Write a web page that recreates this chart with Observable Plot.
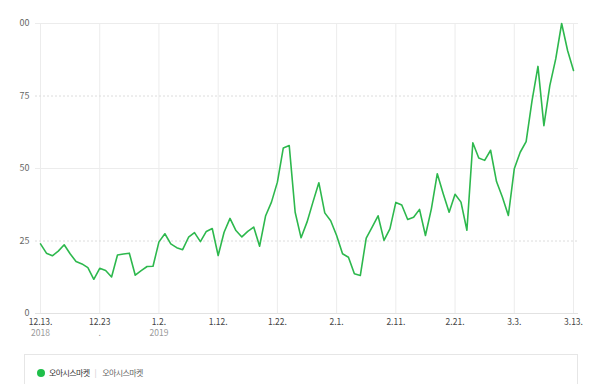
<!DOCTYPE html>
<html>
<head>
<meta charset="utf-8">
<script src="https://cdn.jsdelivr.net/npm/d3@7"></script>
<script src="https://cdn.jsdelivr.net/npm/@observablehq/plot@0.6"></script>
<style>
  html, body { margin: 0; padding: 0; background: #fff; }
  body { width: 600px; height: 384px; overflow: hidden; font-family: "Noto Sans CJK KR", "Noto Sans", sans-serif; }
  #legend { margin-left: 24px; width: 554px; height: 40px; box-sizing: border-box; border: 1px solid #e6e6e6; border-bottom: none; margin-top: 4px; position: relative; }
  #legend .item { position: absolute; top: 13px; left: 12px; display: flex; align-items: center; font-size: 8px; letter-spacing: -0.6px; line-height: 10px; }
  #legend .dot { width: 8px; height: 8px; border-radius: 50%; background: #1fbf4a; margin-right: 4px; }
  #legend .name { color: #333; }
  #legend .sep { color: #ccc; margin: 0 6px 0 5px; }
  #legend .sub { color: #666; }
</style>
</head>
<body>
<div id="chart"></div>
<div id="legend">
  <div class="item"><span class="dot"></span><span class="name" id="lg1"></span><span class="sep">|</span><span class="sub" id="lg2"></span></div>
</div>
<script>
const seriesName = "오아시스마켓";
const startDate = "2018-12-13";
const endDate = "2019-03-13";
const values = [
  24.0, 20.8, 19.9, 21.5, 23.7, 20.6, 17.9, 17.1, 15.8, 11.8,
  15.6, 14.8, 12.6, 20.2, 20.5, 20.8, 13.2, 14.8, 16.2, 16.3,
  24.7, 27.5, 24.0, 22.7, 22.0, 26.3, 27.9, 24.8, 28.3, 29.3,
  20.0, 28.0, 32.8, 28.6, 26.4, 28.3, 29.8, 23.2, 33.6, 38.4,
  45.3, 57.1, 57.9, 34.9, 26.1, 31.5, 38.4, 45.1, 34.7, 32.0,
  26.9, 20.6, 19.4, 13.7, 13.1, 26.0, 29.8, 33.7, 25.2, 29.2,
  38.3, 37.4, 32.4, 33.2, 35.9, 26.9, 36.1, 48.2, 41.3, 34.9,
  41.1, 38.4, 28.7, 58.9, 53.6, 52.8, 56.3, 45.5, 40.1, 33.8,
  49.9, 55.6, 59.3, 73.4, 85.2, 64.8, 78.6, 87.8, 100.0, 90.7,
  83.8
];
const tickDates = ["2018-12-13","2018-12-23","2019-01-02","2019-01-12","2019-01-22","2019-02-01","2019-02-11","2019-02-21","2019-03-03","2019-03-13"];
const tickLabels = ["12.13.","12.23","1.2.","1.12.","1.22.","2.1.","2.11.","2.21.","3.3.","3.13."];
const yearLabels = ["2018",".","2019","","","","","","",""];
const yTicks = [0, 25, 50, 75, 100];
const yTickLabels = ["0", "25", "50", "75", "00"];

const dates = d3.utcDay.range(new Date(startDate), d3.utcDay.offset(new Date(endDate), 1));
const data = dates.map((d, i) => ({date: d, value: values[i]}));
const ticks = tickDates.map((t, i) => ({date: new Date(t), label: tickLabels[i], year: yearLabels[i]}));
const yt = yTicks.map((v, i) => ({v, label: yTickLabels[i]}));

const chart = Plot.plot({
  width: 600,
  height: 350,
  marginTop: 23,
  marginBottom: 37,
  marginLeft: 35,
  marginRight: 22,
  style: {fontFamily: '"Noto Sans CJK KR", "Noto Sans", sans-serif', background: "#fff"},
  x: {type: "utc", domain: [new Date(startDate), new Date(endDate)], insetLeft: 5, insetRight: 5, axis: null},
  y: {domain: [0, 100], axis: null},
  marks: [
    Plot.ruleX(ticks, {x: "date", y1: 0, y2: 100, stroke: "#ececec", strokeWidth: 1}),
    Plot.ruleY(yTicks.filter(v => v === 50 || v === 100), {stroke: "#ececec", strokeWidth: 1}),
    Plot.ruleY(yTicks.filter(v => v === 25 || v === 75), {stroke: "#dcdcdc", strokeWidth: 1, strokeDasharray: "2,2"}),
    Plot.ruleY([0], {stroke: "#e2e2e2", strokeWidth: 1}),
    Plot.line(data, {x: "date", y: "value", stroke: "#2db84d", strokeWidth: 1.6, curve: "linear"}),
    Plot.text(yt, {y: "v", text: "label", frameAnchor: "left", dx: -6, textAnchor: "end", fill: "#666", fontSize: 9}),
    Plot.text(ticks, {x: "date", y: 0, text: "label", dy: 9, fill: "#444", fontSize: 8.5, lineAnchor: "middle", letterSpacing: -0.4}),
    Plot.text(ticks, {x: "date", y: 0, text: "year", dy: 19.5, fill: "#999", fontSize: 8.5, lineAnchor: "middle", letterSpacing: -0.4})
  ]
});
document.getElementById("chart").appendChild(chart);
document.getElementById("lg1").textContent = seriesName;
document.getElementById("lg2").textContent = seriesName;
</script>
</body>
</html>
